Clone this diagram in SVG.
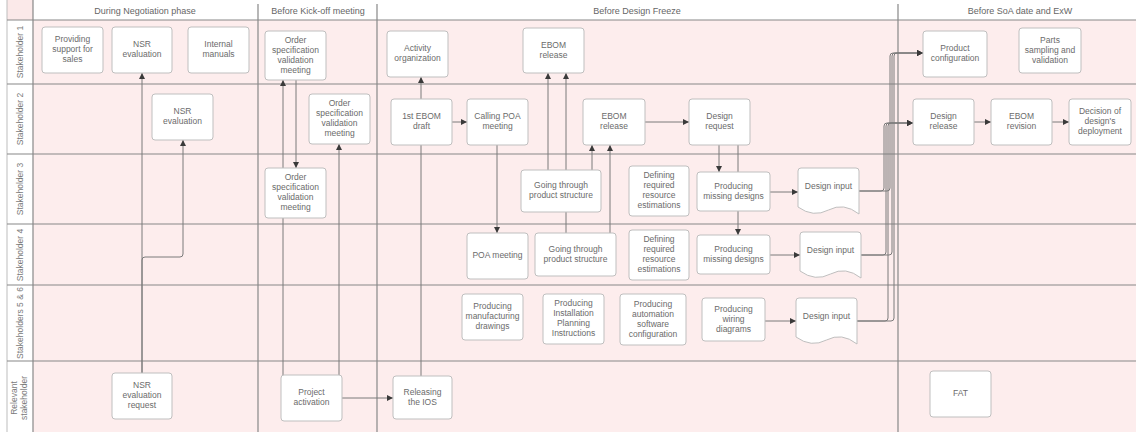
<svg xmlns="http://www.w3.org/2000/svg" width="1136" height="432" viewBox="0 0 1136 432">
  <defs>
    <marker id="arrow" viewBox="0 0 6 6" markerWidth="6" markerHeight="6" refX="6" refY="3" orient="auto" markerUnits="userSpaceOnUse">
      <path d="M0,0 L6,3 L0,6 z" fill="#3a3a3a"/>
    </marker>
    <style>
      .grid { stroke: #888888; stroke-width: 1.2; fill: none; }
      .gridlight { stroke: #bdbdbd; stroke-width: 1; fill: none; }
      .box { fill: #ffffff; stroke: #bfbfbf; stroke-width: 1; }
      .t { font-family: "Liberation Sans", Arial, sans-serif; font-size: 8.5px; fill: #6b6b6b; text-anchor: middle; }
      .hdr { font-family: "Liberation Sans", Arial, sans-serif; font-size: 9px; fill: #666666; text-anchor: middle; }
      .lane { font-family: "Liberation Sans", Arial, sans-serif; font-size: 8.5px; fill: #7a7a7a; text-anchor: middle; }
      .c { stroke: #7a7a7a; stroke-width: 1; fill: none; }
      .ca { stroke: #7a7a7a; stroke-width: 1; fill: none; marker-end: url(#arrow); }
    </style>
  </defs>

  <!-- pool backgrounds -->
  <rect x="0" y="0" width="1136" height="432" fill="#ffffff"/>
  <rect x="33" y="20" width="1103" height="412" fill="#fdeded"/>
  <rect x="7" y="0" width="26" height="20" fill="#fbe9e9"/>

  <!-- grid -->
  <g id="grid">
    <line class="gridlight" x1="7" y1="0" x2="7" y2="432"/>
    <line class="grid" x1="33" y1="0" x2="33" y2="432"/>
    <line class="grid" x1="258" y1="4" x2="258" y2="432"/>
    <line class="grid" x1="377" y1="4" x2="377" y2="432"/>
    <line class="grid" x1="898" y1="4" x2="898" y2="432"/>
    <line class="grid" x1="7" y1="20" x2="1136" y2="20"/>
    <line class="grid" x1="7" y1="84" x2="1136" y2="84"/>
    <line class="grid" x1="7" y1="154" x2="1136" y2="154"/>
    <line class="grid" x1="7" y1="224" x2="1136" y2="224"/>
    <line class="grid" x1="7" y1="285" x2="1136" y2="285"/>
    <line class="grid" x1="7" y1="361" x2="1136" y2="361"/>
  </g>

  <!-- phase headers -->
  <g id="phases">
    <text class="hdr" x="145" y="14">During Negotiation phase</text>
    <text class="hdr" x="318" y="14">Before Kick-off meeting</text>
    <text class="hdr" x="637" y="14">Before Design Freeze</text>
    <text class="hdr" x="1020" y="14">Before SoA date and ExW</text>
  </g>

  <!-- lane titles -->
  <g id="lanes">
    <text class="lane" transform="translate(23,52) rotate(-90)">Stakeholder 1</text>
    <text class="lane" transform="translate(23,119) rotate(-90)">Stakeholder 2</text>
    <text class="lane" transform="translate(23,189) rotate(-90)">Stakeholder 3</text>
    <text class="lane" transform="translate(23,255) rotate(-90)">Stakeholder 4</text>
    <text class="lane" transform="translate(23,323) rotate(-90)">Stakeholders 5 &amp; 6</text>
    <text class="lane" transform="translate(16.5,398) rotate(-90)"><tspan x="0" y="0">Relevant</tspan><tspan x="0" y="10">stakeholder</tspan></text>
  </g>

  <!-- connectors -->
  <g id="connectors">
    <path class="ca" d="M142,373 V73"/>
    <path class="ca" d="M142,373 V260 Q142,257 145,257 H180 Q183,257 183,254 V140"/>
    <path class="ca" d="M283,375 V80"/>
    <path class="ca" d="M339,375 V144"/>
    <path class="ca" d="M296,80 V168"/>
    <path class="ca" d="M342,398 H393"/>
    <path class="c" d="M421,376 V145"/>
    <path class="ca" d="M421,99 V77"/>
    <path class="ca" d="M452,122 H467"/>
    <path class="ca" d="M497,145 V233"/>
    <path class="ca" d="M548,170 V73"/>
    <path class="ca" d="M566,233 V73"/>
    <path class="ca" d="M592,170 V145"/>
    <path class="ca" d="M610,233 V145"/>
    <path class="ca" d="M645,122 H689"/>
    <path class="ca" d="M719,145 V172"/>
    <path class="ca" d="M738,145 V235"/>
    <path class="ca" d="M770,192 H798"/>
    <path class="ca" d="M770,255 H800"/>
    <path class="ca" d="M765,321 H796"/>
    <!-- design inputs towards release and configuration -->
    <path class="ca" d="M859,191 H881 Q884,191 884,188 V126 Q884,123 887,123 H913"/>
    <path class="ca" d="M859,191 H887 Q890,191 890,188 V56 Q890,53 893,53 H923"/>
    <path class="ca" d="M861,255 H883 Q886,255 886,252 V126 Q886,123 889,123 H913"/>
    <path class="ca" d="M861,255 H889 Q892,255 892,252 V56 Q892,53 895,53 H923"/>
    <path class="ca" d="M857,321 H885 Q888,321 888,318 V126 Q888,123 891,123 H913"/>
    <path class="ca" d="M857,321 H891 Q894,321 894,318 V56 Q894,53 897,53 H923"/>
    <path class="ca" d="M974,122 H991"/>
    <path class="ca" d="M1052,122 H1069"/>
  </g>

  <!-- Stakeholder 1 -->
  <g id="n_support"><rect class="box" x="42" y="27" width="61" height="46" rx="3"/><text class="t"><tspan x="72.5" y="42">Providing</tspan><tspan x="72.5" y="52">support for</tspan><tspan x="72.5" y="62">sales</tspan></text></g>
  <g id="n_nsr1"><rect class="box" x="112" y="27" width="60" height="46" rx="3"/><text class="t"><tspan x="142" y="47">NSR</tspan><tspan x="142" y="57">evaluation</tspan></text></g>
  <g id="n_manuals"><rect class="box" x="188" y="27" width="61" height="46" rx="3"/><text class="t"><tspan x="218.5" y="47">Internal</tspan><tspan x="218.5" y="57">manuals</tspan></text></g>
  <g id="n_osvm1"><rect class="box" x="265" y="31" width="61" height="49" rx="3"/><text class="t"><tspan x="295.5" y="43">Order</tspan><tspan x="295.5" y="53">specification</tspan><tspan x="295.5" y="63">validation</tspan><tspan x="295.5" y="73">meeting</tspan></text></g>
  <g id="n_activity"><rect class="box" x="387" y="31" width="61" height="46" rx="3"/><text class="t"><tspan x="417.5" y="51">Activity</tspan><tspan x="417.5" y="61">organization</tspan></text></g>
  <g id="n_ebom1"><rect class="box" x="523" y="28" width="61" height="45" rx="3"/><text class="t"><tspan x="553.5" y="47.5">EBOM</tspan><tspan x="553.5" y="57.5">release</tspan></text></g>
  <g id="n_prodconf"><rect class="box" x="923" y="31" width="64" height="46" rx="3"/><text class="t"><tspan x="955" y="51">Product</tspan><tspan x="955" y="61">configuration</tspan></text></g>
  <g id="n_parts"><rect class="box" x="1019" y="28" width="62" height="45" rx="3"/><text class="t"><tspan x="1050" y="42.5">Parts</tspan><tspan x="1050" y="52.5">sampling and</tspan><tspan x="1050" y="62.5">validation</tspan></text></g>

  <!-- Stakeholder 2 -->
  <g id="n_nsr2"><rect class="box" x="152" y="94" width="61" height="46" rx="3"/><text class="t"><tspan x="182.5" y="114">NSR</tspan><tspan x="182.5" y="124">evaluation</tspan></text></g>
  <g id="n_osvm2"><rect class="box" x="309" y="94" width="61" height="50" rx="3"/><text class="t"><tspan x="339.5" y="106">Order</tspan><tspan x="339.5" y="116">specification</tspan><tspan x="339.5" y="126">validation</tspan><tspan x="339.5" y="136">meeting</tspan></text></g>
  <g id="n_ebomdraft"><rect class="box" x="391" y="99" width="61" height="46" rx="3"/><text class="t"><tspan x="421.5" y="119">1st EBOM</tspan><tspan x="421.5" y="129">draft</tspan></text></g>
  <g id="n_callpoa"><rect class="box" x="467" y="99" width="61" height="46" rx="3"/><text class="t"><tspan x="497.5" y="119">Calling POA</tspan><tspan x="497.5" y="129">meeting</tspan></text></g>
  <g id="n_ebom2"><rect class="box" x="583" y="99" width="62" height="46" rx="3"/><text class="t"><tspan x="614" y="119">EBOM</tspan><tspan x="614" y="129">release</tspan></text></g>
  <g id="n_designreq"><rect class="box" x="689" y="99" width="61" height="46" rx="3"/><text class="t"><tspan x="719.5" y="119">Design</tspan><tspan x="719.5" y="129">request</tspan></text></g>
  <g id="n_designrel"><rect class="box" x="913" y="99" width="61" height="46" rx="3"/><text class="t"><tspan x="943.5" y="119">Design</tspan><tspan x="943.5" y="129">release</tspan></text></g>
  <g id="n_ebomrev"><rect class="box" x="991" y="99" width="61" height="46" rx="3"/><text class="t"><tspan x="1021.5" y="119">EBOM</tspan><tspan x="1021.5" y="129">revision</tspan></text></g>
  <g id="n_decision"><rect class="box" x="1069" y="99" width="62" height="46" rx="3"/><text class="t"><tspan x="1100" y="114">Decision of</tspan><tspan x="1100" y="124">design's</tspan><tspan x="1100" y="134">deployment</tspan></text></g>

  <!-- Stakeholder 3 -->
  <g id="n_osvm3"><rect class="box" x="265" y="168" width="61" height="50" rx="3"/><text class="t"><tspan x="295.5" y="180">Order</tspan><tspan x="295.5" y="190">specification</tspan><tspan x="295.5" y="200">validation</tspan><tspan x="295.5" y="210">meeting</tspan></text></g>
  <g id="n_gtps3"><rect class="box" x="521" y="170" width="80" height="42" rx="3"/><text class="t"><tspan x="561" y="188">Going through</tspan><tspan x="561" y="198">product structure</tspan></text></g>
  <g id="n_defres3"><rect class="box" x="629" y="166" width="60" height="50" rx="3"/><text class="t"><tspan x="659" y="178">Defining</tspan><tspan x="659" y="188">required</tspan><tspan x="659" y="198">resource</tspan><tspan x="659" y="208">estimations</tspan></text></g>
  <g id="n_pmd3"><rect class="box" x="697" y="172" width="73" height="39" rx="3"/><text class="t"><tspan x="733.5" y="188.5">Producing</tspan><tspan x="733.5" y="198.5">missing designs</tspan></text></g>
  <g id="n_di3"><path class="box" d="M801,168 H856 Q859,168 859,171 V214 Q843.75,202 828.5,210 Q813.25,218 798,207 V171 Q798,168 801,168 z"/><text class="t" x="828.5" y="189">Design input</text></g>

  <!-- Stakeholder 4 -->
  <g id="n_poa"><rect class="box" x="467" y="233" width="61" height="46" rx="3"/><text class="t" x="497.5" y="258">POA meeting</text></g>
  <g id="n_gtps4"><rect class="box" x="535" y="233" width="81" height="43" rx="3"/><text class="t"><tspan x="575.5" y="251.5">Going through</tspan><tspan x="575.5" y="261.5">product structure</tspan></text></g>
  <g id="n_defres4"><rect class="box" x="629" y="230" width="60" height="50" rx="3"/><text class="t"><tspan x="659" y="242">Defining</tspan><tspan x="659" y="252">required</tspan><tspan x="659" y="262">resource</tspan><tspan x="659" y="272">estimations</tspan></text></g>
  <g id="n_pmd4"><rect class="box" x="697" y="235" width="73" height="39" rx="3"/><text class="t"><tspan x="733.5" y="251.5">Producing</tspan><tspan x="733.5" y="261.5">missing designs</tspan></text></g>
  <g id="n_di4"><path class="box" d="M803,232 H858 Q861,232 861,235 V278 Q845.75,266 830.5,274 Q815.25,282 800,271 V235 Q800,232 803,232 z"/><text class="t" x="830.5" y="253">Design input</text></g>

  <!-- Stakeholders 5 & 6 -->
  <g id="n_mfgdraw"><rect class="box" x="462" y="294" width="61" height="46" rx="3"/><text class="t"><tspan x="492.5" y="309">Producing</tspan><tspan x="492.5" y="319">manufacturing</tspan><tspan x="492.5" y="329">drawings</tspan></text></g>
  <g id="n_ipi"><rect class="box" x="543" y="294" width="61" height="50" rx="3"/><text class="t"><tspan x="573.5" y="306">Producing</tspan><tspan x="573.5" y="316">Installation</tspan><tspan x="573.5" y="326">Planning</tspan><tspan x="573.5" y="336">Instructions</tspan></text></g>
  <g id="n_autosw"><rect class="box" x="620" y="294" width="66" height="51" rx="3"/><text class="t"><tspan x="653" y="306.5">Producing</tspan><tspan x="653" y="316.5">automation</tspan><tspan x="653" y="326.5">software</tspan><tspan x="653" y="336.5">configuration</tspan></text></g>
  <g id="n_wiring"><rect class="box" x="702" y="298" width="63" height="43" rx="3"/><text class="t"><tspan x="733.5" y="311.5">Producing</tspan><tspan x="733.5" y="321.5">wiring</tspan><tspan x="733.5" y="331.5">diagrams</tspan></text></g>
  <g id="n_di5"><path class="box" d="M799,298 H854 Q857,298 857,301 V344 Q841.75,332 826.5,340 Q811.25,348 796,337 V301 Q796,298 799,298 z"/><text class="t" x="826.5" y="319">Design input</text></g>

  <!-- Relevant stakeholder -->
  <g id="n_nsrreq"><rect class="box" x="112" y="373" width="60" height="46" rx="3"/><text class="t"><tspan x="142" y="388">NSR</tspan><tspan x="142" y="398">evaluation</tspan><tspan x="142" y="408">request</tspan></text></g>
  <g id="n_projact"><rect class="box" x="281" y="375" width="61" height="46" rx="3"/><text class="t"><tspan x="311.5" y="395">Project</tspan><tspan x="311.5" y="405">activation</tspan></text></g>
  <g id="n_ios"><rect class="box" x="393" y="376" width="59" height="43" rx="3"/><text class="t"><tspan x="422.5" y="394.5">Releasing</tspan><tspan x="422.5" y="404.5">the IOS</tspan></text></g>
  <g id="n_fat"><rect class="box" x="930" y="371" width="61" height="46" rx="3"/><text class="t" x="960.5" y="396">FAT</text></g>
</svg>
